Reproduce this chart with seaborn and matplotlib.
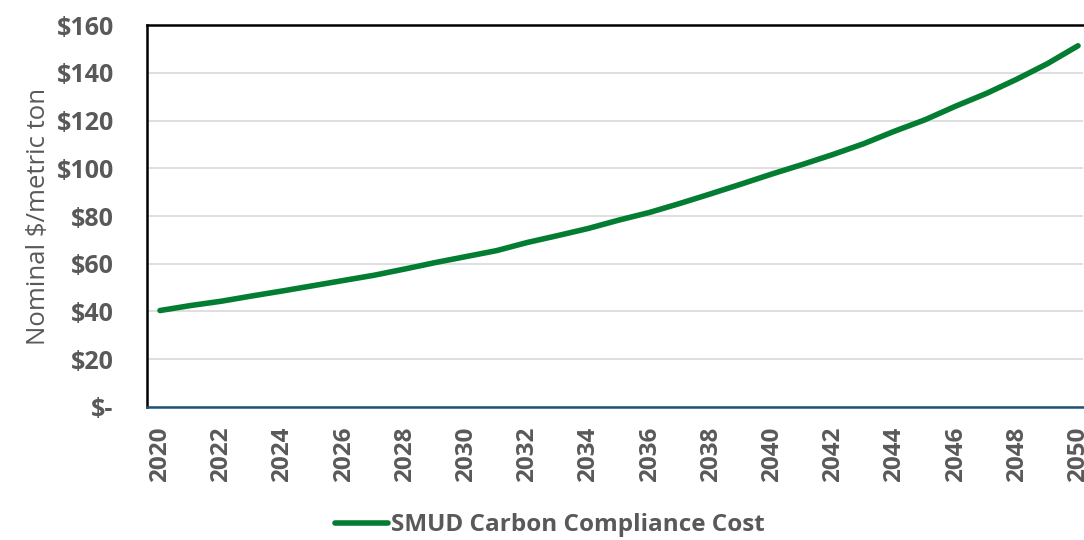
import numpy as np
import pandas as pd
import matplotlib
matplotlib.use("Agg")
import matplotlib.pyplot as plt
import seaborn as sns

# values (nominal $/metric ton)
years = list(range(2020, 2051))
cost = [40.4, 42.5, 44.3, 46.5, 48.6, 50.8, 53.0, 55.2, 57.8, 60.5,
        63.0, 65.5, 68.9, 71.8, 74.8, 78.3, 81.5, 85.3, 89.3, 93.4,
        97.6, 101.6, 105.8, 110.3, 115.5, 120.3, 126.0, 131.3, 137.3, 143.8,
        151.3]
series_name = "SMUD Carbon Compliance Cost"
y_ticks = [0, 20, 40, 60, 80, 100, 120, 140, 160]
y_tick_labels = ["$-", "$20", "$40", "$60", "$80", "$100", "$120", "$140", "$160"]
x_ticks = list(range(2020, 2051, 2))

df = pd.DataFrame({"Year": years, "Cost": cost})

sns.set_theme(style="white")
plt.rcParams['font.family'] = ['Open Sans', 'DejaVu Sans']

gray = "#595959"
green = "#037d32"

fig = plt.figure(figsize=(10.84, 5.4), dpi=100)
ax = fig.add_axes([0.1356, 0.2463, 0.8634, 0.7074])

sns.lineplot(data=df, x="Year", y="Cost", ax=ax, color=green, linewidth=4.0,
             label=series_name, solid_capstyle="round")

ax.set_xlim(2019.575, 2050.16)
ax.set_ylim(0, 160)
ax.set_yticks(y_ticks)
ax.set_yticklabels(y_tick_labels)
ax.set_xticks(x_ticks)
ax.set_xticklabels([str(x) for x in x_ticks], rotation=90)

ax.yaxis.grid(True, color="#d9d9d9", linewidth=1.2)
ax.set_axisbelow(True)

for lbl in ax.get_yticklabels():
    lbl.set_fontweight("bold")
    lbl.set_color(gray)
    lbl.set_fontsize(18)
for lbl in ax.get_xticklabels():
    lbl.set_fontweight("bold")
    lbl.set_color(gray)
    lbl.set_fontsize(17.5)
ax.tick_params(axis="y", length=0, pad=24)
ax.tick_params(axis="x", length=0, pad=14)

ax.set_xlabel("")
ax.set_ylabel("Nominal $/metric ton", fontsize=18.5, color=gray, labelpad=4)

# spines
ax.spines["left"].set_color("black")
ax.spines["left"].set_linewidth(1.8)
ax.spines["top"].set_color("black")
ax.spines["top"].set_linewidth(1.8)
ax.spines["right"].set_visible(False)
ax.spines["bottom"].set_color("#1f5478")
ax.spines["bottom"].set_linewidth(1.8)

leg = ax.legend(loc="center", bbox_to_anchor=(0.507, 0.027),
                bbox_transform=fig.transFigure, frameon=False,
                handlelength=2.2, handletextpad=0.1, fontsize=17.5,
                borderpad=0, borderaxespad=0)
for t in leg.get_texts():
    t.set_fontweight("bold")
    t.set_color(gray)

fig.savefig("out.png", dpi=100)
